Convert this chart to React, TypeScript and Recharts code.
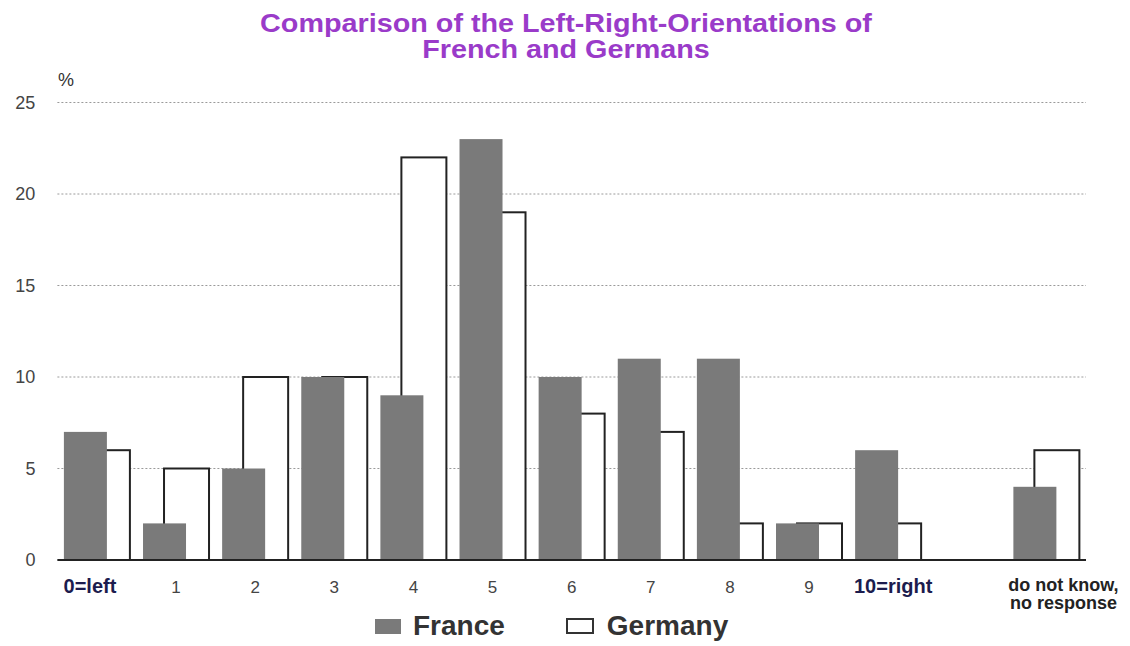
import React from "react";
import { BarChart, Bar, XAxis, YAxis, CartesianGrid } from "recharts";

const categories = [
  "0=left",
  "1",
  "2",
  "3",
  "4",
  "5",
  "6",
  "7",
  "8",
  "9",
  "10=right",
  "",
  "do not know,\nno response",
];
const france = [7, 2, 5, 10, 9, 23, 10, 11, 11, 2, 6, null, 4];
const germany = [6, 5, 10, 10, 22, 19, 8, 7, 2, 2, 2, null, 6];
const yTicks = [0, 5, 10, 15, 20, 25];

const data = categories.map((name, i) => ({
  name,
  france: france[i],
  germany: germany[i],
}));

const FRANCE_FILL = "#7a7a7a";
const FONT = "Arial, 'Liberation Sans', sans-serif";

// label nudges so the text sits like the original
const labelShift: Record<number, number> = { 0: -7, 10: 5, 12: 17 };

function XTick(props: any) {
  const { x, y, payload, index } = props;
  const label: string = payload.value;
  if (!label) return null;
  const lines = label.split("\n");
  const edge = index === 0 || index === 10;
  const multi = lines.length > 1;
  const dx = labelShift[index] ?? 0;
  let fill = "#444";
  let size = 17;
  let weight: any = "normal";
  if (edge) {
    fill = "#1c1c4e";
    size = 20;
    weight = "bold";
  } else if (multi) {
    fill = "#222";
    size = 18;
    weight = "bold";
  }
  return (
    <text
      x={x + dx}
      y={y}
      textAnchor="middle"
      fill={fill}
      fontSize={size}
      fontWeight={weight}
      fontFamily={FONT}
    >
      {lines.map((l, i) => (
        <tspan key={i} x={x + dx} y={y + (multi ? 31 : 33) + i * 18}>
          {l}
        </tspan>
      ))}
    </text>
  );
}

const FranceShape = (p: any) => (
  <rect x={p.x - 11.5} y={p.y} width={p.width} height={p.height} fill={FRANCE_FILL} />
);

const GermanyShape = (p: any) => (
  <rect
    x={p.x + 10.5}
    y={p.y}
    width={p.width}
    height={p.height}
    fill="#fff"
    stroke="#222"
    strokeWidth={2}
  />
);

export default function App() {
  return (
    <div
      style={{
        position: "absolute",
        left: 0,
        top: 0,
        width: 1130,
        height: 646,
        background: "#fff",
        fontFamily: FONT,
      }}
    >
      <div
        style={{
          position: "absolute",
          left: 0,
          width: 1130,
          top: 10,
          textAlign: "center",
          color: "#9a3bc9",
          fontWeight: "bold",
          fontSize: 25,
          lineHeight: "26px",
        }}
      >
        <div style={{ display: "inline-block", transform: "scaleX(1.15)", marginLeft: 2 }}>
          Comparison of the Left-Right-Orientations of
          <br />
          French and Germans
        </div>
      </div>
      <div style={{ position: "absolute", left: 58, top: 70, fontSize: 18, color: "#333" }}>%</div>

      <BarChart
        width={1130}
        height={646}
        data={data}
        margin={{ top: 102.5, right: 44, bottom: 46, left: 7.4 }}
      >
        <CartesianGrid
          vertical={false}
          stroke="#9a9a9a"
          strokeDasharray="2 2"
          xAxisId={0}
        />
        <YAxis
          width={50}
          domain={[0, 25]}
          ticks={yTicks}
          axisLine={false}
          tickLine={false}
          tickSize={0}
          tickMargin={22}
          tick={{ fill: "#444", fontSize: 18, fontFamily: FONT }}
        />
        <XAxis
          xAxisId={0}
          dataKey="name"
          height={40}
          interval={0}
          axisLine={{ stroke: "#222", strokeWidth: 2 }}
          tickLine={false}
          tickSize={0}
          tickMargin={0}
          tick={<XTick />}
        />
        <XAxis xAxisId="g" dataKey="name" hide />
        <Bar
          xAxisId="g"
          dataKey="germany"
          barSize={45}
          shape={GermanyShape}
          isAnimationActive={false}
        />
        <Bar
          xAxisId={0}
          dataKey="france"
          barSize={43}
          shape={FranceShape}
          isAnimationActive={false}
        />
      </BarChart>

      <div
        style={{
          position: "absolute",
          top: 610,
          left: 375,
          display: "flex",
          alignItems: "center",
          fontSize: 28,
          fontWeight: "bold",
          color: "#333",
        }}
      >
        <span style={{ width: 26, height: 15, background: FRANCE_FILL, display: "inline-block" }} />
        <span style={{ marginLeft: 12 }}>France</span>
        <span
          style={{
            width: 24,
            height: 12,
            border: "2px solid #333",
            display: "inline-block",
            marginLeft: 61,
          }}
        />
        <span style={{ marginLeft: 13 }}>Germany</span>
      </div>
    </div>
  );
}
